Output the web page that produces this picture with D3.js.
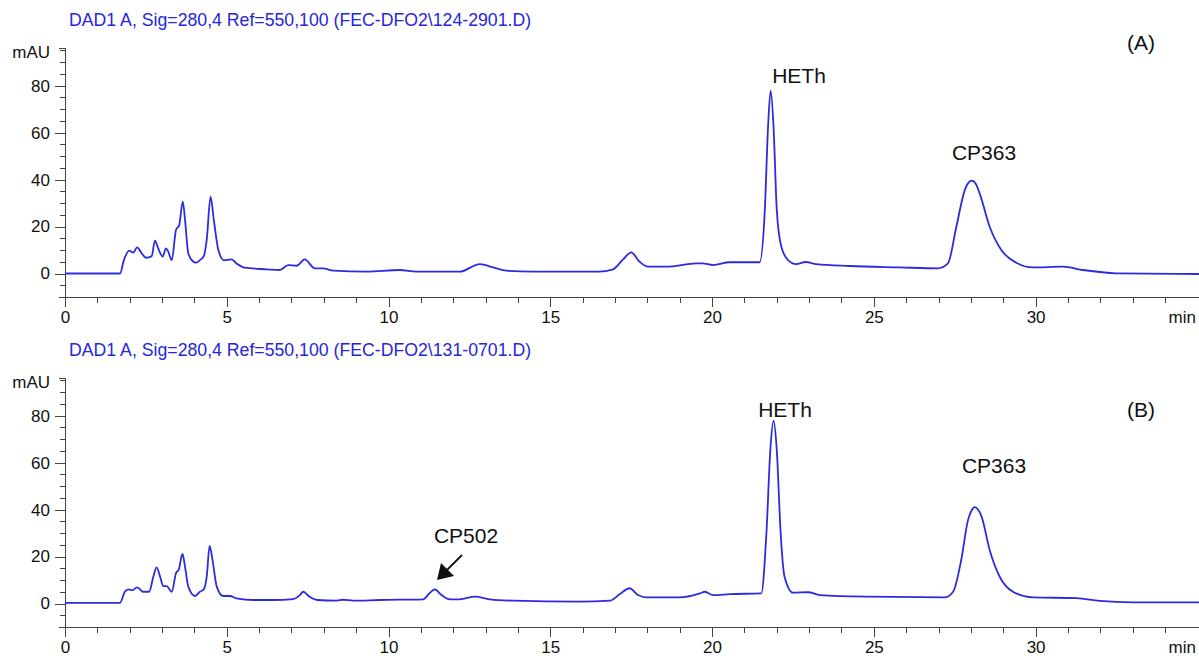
<!DOCTYPE html>
<html>
<head>
<meta charset="utf-8">
<script src="https://cdn.jsdelivr.net/npm/d3@7"></script>
<style>
    body { margin: 0; background: #fff; }
    svg { display: block; font-family: "Liberation Sans", Arial, sans-serif; }
    .axis path, .axis line { stroke: #444; shape-rendering: crispEdges; }
    .axis text { font-size: 17px; fill: #111; font-family: "Liberation Sans", Arial, sans-serif; }
    .trace { fill: none; stroke: #2c2cdc; stroke-width: 1.8; stroke-linejoin: round; }
    .title { font-size: 17.7px; fill: #2626d8; }
    .peak-label { font-size: 21px; fill: #111; }
</style>
</head>
<body>
<div id="chart"></div>
<script>

// retention time (min) and absorbance (mAU)
var timeA = [0, 1.70, 1.82, 1.99, 2.11, 2.23, 2.37, 2.51, 2.68, 2.78, 2.88, 3.02, 3.12, 3.19, 3.30,
    3.43, 3.53, 3.64, 3.71, 3.81, 3.95, 4.05, 4.17, 4.29, 4.38, 4.50, 4.60, 4.74, 4.91, 5.15,
    5.30, 5.56, 6.23, 6.64, 6.90, 7.16, 7.41, 7.72, 7.98, 8.29, 9.32, 10.35, 10.87, 12.20, 12.82,
    13.23, 13.64, 14.47, 16.50, 16.94, 17.25, 17.50, 17.76, 18.02, 18.59, 19.51, 19.70, 20.03, 20.54, 21.47,
    21.63, 21.73, 21.81, 21.90, 22.00, 22.14, 22.35, 22.60, 22.89, 23.22, 24.25, 25.80, 26.98, 27.29, 27.55,
    27.81, 27.92, 28.03, 28.15, 28.27, 28.58, 28.94, 29.40, 29.91, 30.84, 31.46, 32.49, 35.05];
var valueA = [0, 0, 5.7, 9.7, 8.9, 11.1, 8.6, 6.7, 7.4, 14.0, 10.7, 7.2, 10.7, 9.3, 5.7,
    18.5, 20.6, 30.6, 22.8, 8.6, 5.2, 4.6, 5.7, 7.4, 14.3, 32.7, 22.8, 10.0, 5.7, 6.0,
    4.3, 2.5, 1.8, 1.5, 3.6, 3.3, 6.0, 2.2, 2.2, 1.2, 0.8, 1.5, 0.8, 0.8, 4.0,
    2.6, 1.2, 0.8, 0.8, 1.8, 6.0, 9.0, 5.0, 2.9, 2.9, 4.3, 4.3, 3.6, 4.8, 4.8,
    27.0, 62.5, 77.8, 62.5, 27.0, 11.4, 5.7, 4.0, 4.9, 4.0, 3.2, 2.6, 2.2, 4.3, 19.9,
    35.5, 38.6, 39.5, 38.2, 34.1, 19.9, 10.0, 4.6, 2.6, 2.9, 1.5, 0.1, -0.2];

var timeB = [0, 1.70, 1.85, 1.96, 2.09, 2.23, 2.42, 2.60, 2.73, 2.83, 2.94, 3.04, 3.14, 3.30, 3.43,
    3.52, 3.63, 3.71, 3.81, 4.02, 4.17, 4.29, 4.38, 4.47, 4.56, 4.69, 4.89, 5.10, 5.30, 5.82,
    6.43, 7.05, 7.26, 7.36, 7.55, 7.80, 8.40, 8.60, 8.90, 9.73, 11.07, 11.28, 11.43, 11.64, 11.90,
    12.20, 12.67, 13.13, 13.85, 15.90, 16.84, 17.15, 17.45, 17.71, 17.97, 19.00, 19.62, 19.78, 20.03, 20.55,
    21.52, 21.68, 21.80, 21.90, 22.00, 22.12, 22.24, 22.50, 22.97, 23.33, 24.77, 27.19, 27.45, 27.70, 27.91,
    28.02, 28.12, 28.22, 28.33, 28.58, 28.89, 29.30, 29.92, 31.26, 31.98, 33.00, 35.05];
var valueB = [0.3, 0.3, 5.0, 6.0, 5.7, 6.9, 5.0, 5.0, 11.4, 15.4, 11.4, 7.4, 7.4, 5.0, 12.9,
    14.6, 21.1, 15.7, 7.2, 3.2, 5.0, 6.0, 11.4, 24.5, 18.5, 7.2, 3.2, 3.2, 2.2, 1.5,
    1.5, 1.9, 3.6, 5.0, 3.0, 1.5, 1.2, 1.6, 1.2, 1.5, 1.8, 4.6, 6.0, 3.6, 1.8,
    1.8, 2.9, 1.8, 1.2, 0.8, 1.2, 4.0, 6.5, 3.6, 2.6, 2.6, 4.3, 5.0, 3.6, 4.0,
    4.3, 29.9, 65.3, 77.8, 65.3, 29.9, 11.4, 4.6, 4.8, 3.6, 2.9, 2.6, 5.0, 18.5, 35.5,
    39.6, 41.0, 40.0, 37.0, 22.8, 11.4, 5.0, 2.6, 2.3, 1.1, 0.5, 0.5];

var titleA = "DAD1 A, Sig=280,4 Ref=550,100 (FEC-DFO2\\124-2901.D)";
var titleB = "DAD1 A, Sig=280,4 Ref=550,100 (FEC-DFO2\\131-0701.D)";

var xMajor = [0, 5, 10, 15, 20, 25, 30];
var xMinor = d3.range(0, 35, 1);
var yMajor = [0, 20, 40, 60, 80];
var yMinor = d3.range(-10, 96, 5);

var width = 1199, height = 656;

var svg = d3.select("#chart").append("svg")
    .attr("width", width)
    .attr("height", height);

svg.append("rect").attr("width", width).attr("height", height).attr("fill", "#fff");

var x = d3.scaleLinear()
    .domain([0, 35.05])
    .range([65, 1199]);

/*
 * ChromPanel - one chromatogram trace with its own axes
 */
ChromPanel = function(_top, _bottom, _times, _values, _title) {
    this.top = _top;
    this.bottom = _bottom;
    this.data = _times.map(function(t, i) { return { t: t, v: _values[i] }; });
    this.title = _title;

    this.initVis();
};

ChromPanel.prototype.initVis = function() {
    var vis = this;

    vis.y = d3.scaleLinear()
        .domain([-10, 96])
        .range([vis.bottom, vis.top]);

    vis.g = svg.append("g");

    // minor ticks first, major ticks and labels on top
    vis.g.append("g")
        .attr("class", "axis")
        .attr("transform", "translate(0," + vis.bottom + ")")
        .call(d3.axisBottom(x).tickValues(xMinor).tickSize(6).tickSizeOuter(0).tickFormat(""));

    vis.g.append("g")
        .attr("class", "axis")
        .attr("transform", "translate(0," + vis.bottom + ")")
        .call(d3.axisBottom(x).tickValues(xMajor).tickSize(10).tickSizeOuter(0).tickPadding(4)
            .tickFormat(d3.format("d")));

    vis.g.append("g")
        .attr("class", "axis")
        .attr("transform", "translate(65,0)")
        .call(d3.axisLeft(vis.y).tickValues(yMinor).tickSize(5).tickSizeOuter(6).tickFormat(""));

    vis.g.append("g")
        .attr("class", "axis")
        .attr("transform", "translate(65,0)")
        .call(d3.axisLeft(vis.y).tickValues(yMajor).tickSize(10).tickSizeOuter(0).tickPadding(5)
            .tickFormat(d3.format("d")));

    vis.g.selectAll(".axis .domain").attr("stroke", "#444");

    vis.g.append("text")
        .attr("class", "axis-unit")
        .attr("x", 50)
        .attr("y", vis.top + 10)
        .style("text-anchor", "end")
        .style("font-size", "17px")
        .attr("fill", "#111")
        .text("mAU");

    vis.g.append("text")
        .attr("x", 1196)
        .attr("y", vis.bottom + 26)
        .style("text-anchor", "end")
        .style("font-size", "17px")
        .attr("fill", "#111")
        .text("min");

    vis.g.append("text")
        .attr("class", "title")
        .attr("x", 69)
        .attr("y", vis.top - 22)
        .text(vis.title);

    var line = d3.line()
        .x(function(d) { return x(d.t); })
        .y(function(d) { return vis.y(d.v); })
        .curve(d3.curveMonotoneX);

    vis.g.append("path")
        .datum(vis.data)
        .attr("class", "trace")
        .attr("d", line);
};

ChromPanel.prototype.label = function(txt, px, py) {
    this.g.append("text")
        .attr("class", "peak-label")
        .attr("x", px)
        .attr("y", py)
        .style("text-anchor", "middle")
        .text(txt);
};

var panelA = new ChromPanel(48, 297, timeA, valueA, titleA);
var panelB = new ChromPanel(378, 627, timeB, valueB, titleB);

panelA.label("HETh", 799, 83);
panelA.label("CP363", 984, 160);
panelA.label("(A)", 1141, 50);

panelB.label("HETh", 785, 417);
panelB.label("CP363", 994, 473);
panelB.label("(B)", 1141, 417);
panelB.label("CP502", 466, 543);

// arrow pointing at the CP502 peak
panelB.g.append("line")
    .attr("x1", 462).attr("y1", 555)
    .attr("x2", 446).attr("y2", 571)
    .attr("stroke", "#111")
    .attr("stroke-width", 1.8);

panelB.g.append("path")
    .attr("d", "M437,580 L441,563 L454,576 Z")
    .attr("fill", "#111");

</script>
</body>
</html>
